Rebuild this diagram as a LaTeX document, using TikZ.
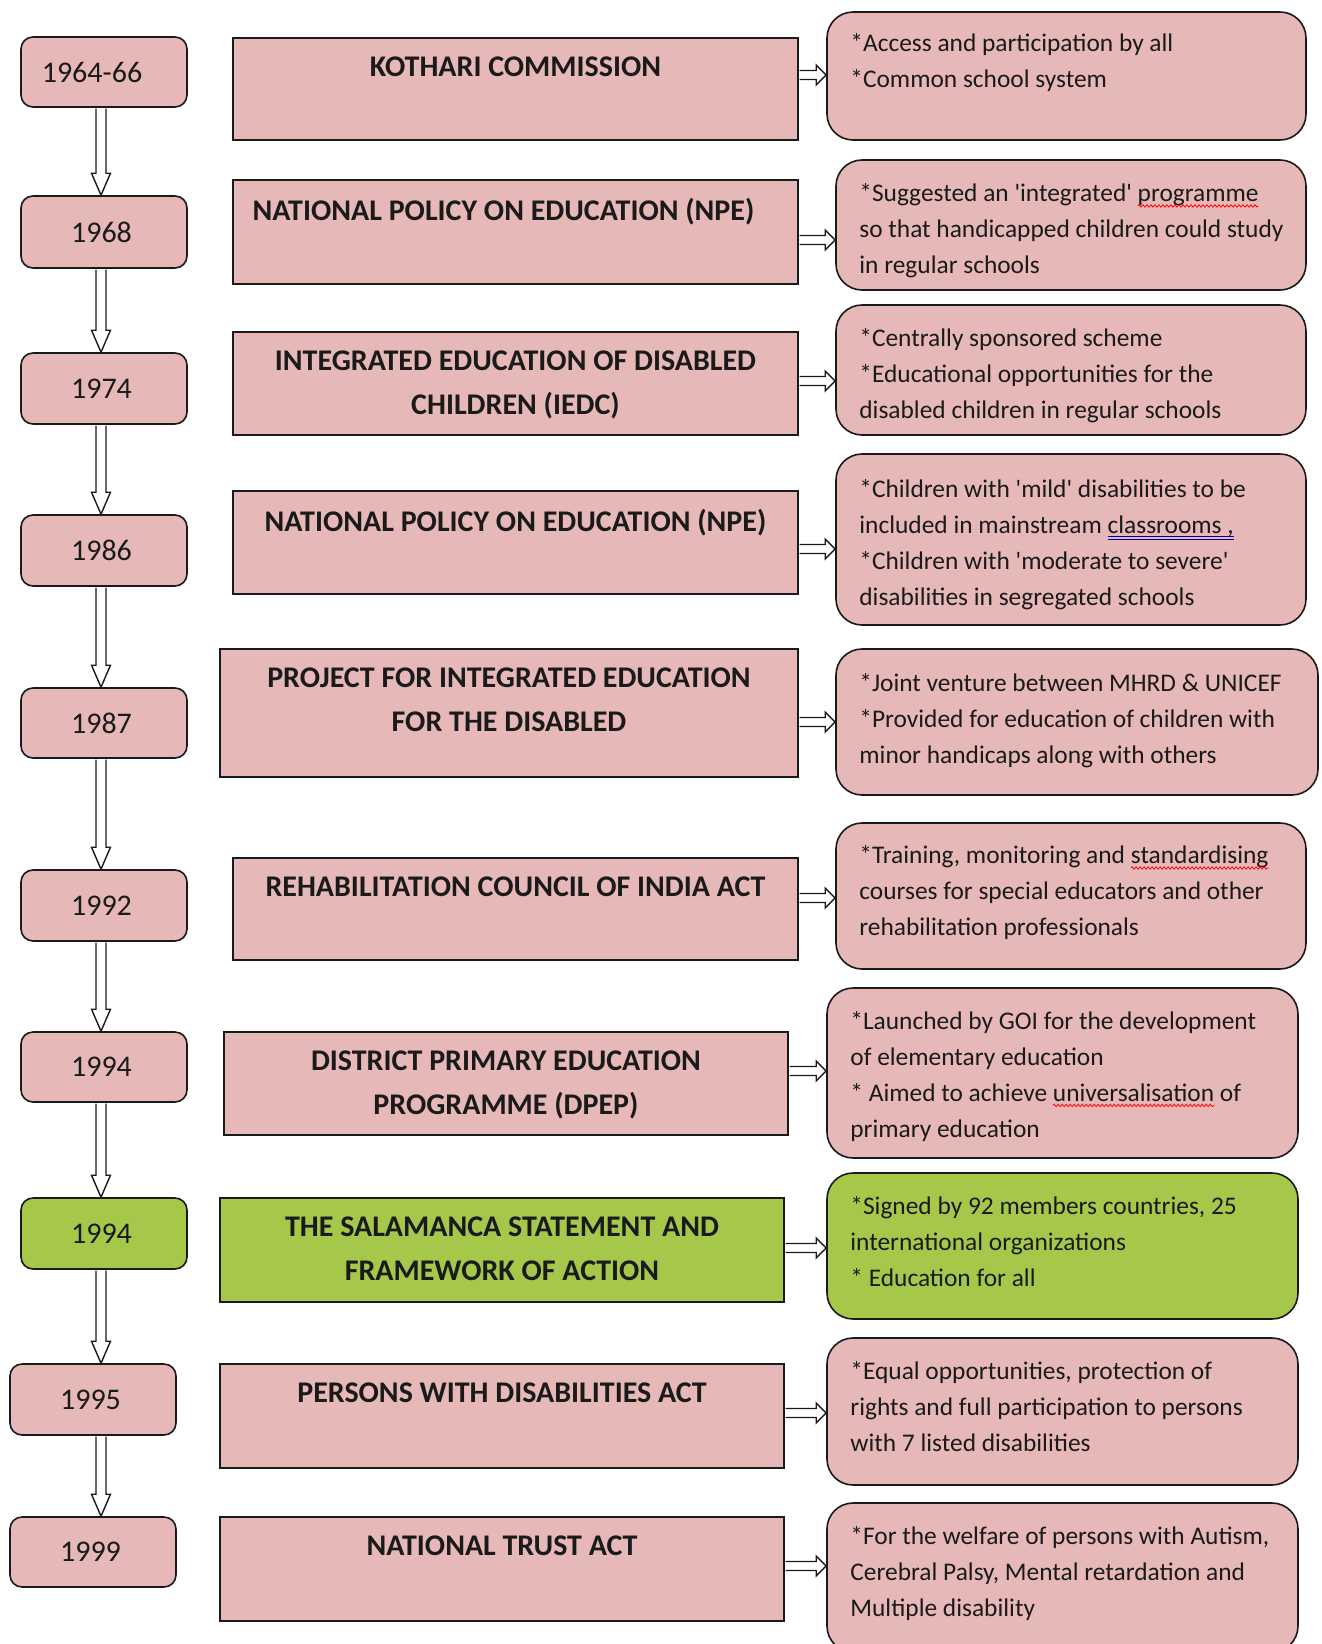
\documentclass[tikz,border=0pt]{standalone}
\usepackage{fontspec}
\setmainfont{Carlito}
\usetikzlibrary{calc,decorations.pathmorphing}
\definecolor{pinkf}{HTML}{E6B9B8}
\definecolor{greenf}{HTML}{A5C84B}
\definecolor{ink}{HTML}{1A1A1A}
\newcommand\redwave[1]{\tikz[baseline=0pt,x=1pt,y=1pt]{\node[anchor=base west,inner sep=0pt,outer sep=0pt,draw=none,fill=none] (w) at (0,0) {#1};\draw[overlay,red,line width=0.8pt,decorate,decoration={snake,amplitude=1.2pt,segment length=4pt}] ([yshift=-4pt]w.base west) -- ([yshift=-4pt]w.base east);}}
\newcommand\blueuu[1]{\tikz[baseline=0pt,x=1pt,y=1pt]{\node[anchor=base west,inner sep=0pt,outer sep=0pt,draw=none,fill=none] (w) at (0,0) {#1};\draw[overlay,blue!65!black,line width=0.8pt] ([yshift=-3pt]w.base west) -- ([yshift=-3pt]w.base east) ([yshift=-5.5pt]w.base west) -- ([yshift=-5.5pt]w.base east);}}
\newcommand\q{\textquotesingle}
\tikzset{
 yrbox/.style={draw=ink, line width=1.6pt, rounded corners=12pt, fill=pinkf, font=\fontsize{30}{36}\selectfont, text=ink},
 mainbox/.style={draw=ink, line width=1.6pt, fill=pinkf},
 infobox/.style={draw=ink, line width=1.6pt, rounded corners=26pt, fill=pinkf},
 ttl/.style={font=\bfseries\fontsize{30}{44}\selectfont, align=center, anchor=north, inner sep=0pt, text=ink},
 info/.style={font=\fontsize{25.4}{36}\selectfont, align=left, anchor=north west, inner sep=0pt, text=ink},
 arr/.style={draw=ink, line width=1.4pt, fill=white, line join=miter},
}
\newcommand\bx[6]{\node[#1, minimum width={#4-#2}, minimum height={#5-#3}, inner sep=0pt] (#6) at ({(#2+#4)/2},{(#3+#5)/2})}
\newcommand\varr[2]{\draw[arr] let \p1=(#1.south), \p2=(#2.north), \p3=(101,0) in (\x3-5pt,\y1-0.8pt) -- (\x3-5pt,\y2+22pt) -- (\x3-9.5pt,\y2+22pt) -- (\x3,\y2) -- (\x3+9.5pt,\y2+22pt) -- (\x3+5pt,\y2+22pt) -- (\x3+5pt,\y1-0.8pt);}
\newcommand\harr[3]{\draw[arr] let \p1=(#1.east), \p2=(#2.west), \p3=(0,#3) in (\x1+0.8pt,\y3+4.5pt) -- (\x2-10pt,\y3+4.5pt) -- (\x2-10pt,\y3+10pt) -- (\x2,\y3) -- (\x2-10pt,\y3-10pt) -- (\x2-10pt,\y3-4.5pt) -- (\x1+0.8pt,\y3-4.5pt);}
\begin{document}
\begin{tikzpicture}[x=1pt,y=-1pt]
\useasboundingbox (0,0) rectangle (1322,1644);
\clip (0,0) rectangle (1322,1644);
% year boxes
\bx{yrbox}{21}{37}{187}{107}{y1} {1964-66\kern24pt};
\bx{yrbox}{21}{196}{187}{268}{y2} {1968\kern5pt};
\bx{yrbox}{21}{353}{187}{424}{y3} {1974\kern5pt};
\bx{yrbox}{21}{515}{187}{586}{y4} {1986\kern5pt};
\bx{yrbox}{21}{688}{187}{758}{y5} {1987\kern5pt};
\bx{yrbox}{21}{870}{187}{941}{y6} {1992\kern5pt};
\bx{yrbox}{21}{1032}{187}{1102}{y7} {1994\kern5pt};
\bx{yrbox,fill=greenf}{21}{1198}{187}{1269}{y8} {1994\kern5pt};
\bx{yrbox}{10}{1364}{176}{1435}{y9} {1995\kern5pt};
\bx{yrbox}{10}{1517}{176}{1587}{y10} {1999\kern5pt};
% main boxes
\bx{mainbox}{233}{38}{798}{140}{m1} {};
\bx{mainbox}{233}{180}{798}{284}{m2} {};
\bx{mainbox}{233}{332}{798}{435}{m3} {};
\bx{mainbox}{233}{491}{798}{594}{m4} {};
\bx{mainbox}{220}{649}{798}{777}{m5} {};
\bx{mainbox}{233}{858}{798}{960}{m6} {};
\bx{mainbox}{224}{1032}{788}{1135}{m7} {};
\bx{mainbox,fill=greenf}{220}{1198}{784}{1302}{m8} {};
\bx{mainbox}{220}{1364}{784}{1468}{m9} {};
\bx{mainbox}{220}{1517}{784}{1621}{m10} {};
% titles
\node[ttl] (t1) at ([shift={(0,19)}]m1.north) {KOTHARI COMMISSION};
\node[ttl] (t2) at ([shift={(-12,19)}]m2.north) {NATIONAL POLICY ON EDUCATION (NPE)};
\node[ttl] (t3) at ([shift={(0,19)}]m3.north) {INTEGRATED EDUCATION OF DISABLED\\CHILDREN (IEDC)};
\node[ttl] (t4) at ([shift={(0,19)}]m4.north) {NATIONAL POLICY ON EDUCATION (NPE)};
\node[ttl] (t5) at ([shift={(0,19)}]m5.north) {PROJECT FOR INTEGRATED EDUCATION\\FOR THE DISABLED};
\node[ttl] (t6) at ([shift={(0,19)}]m6.north) {REHABILITATION COUNCIL OF INDIA ACT};
\node[ttl] (t7) at ([shift={(0,19)}]m7.north) {DISTRICT PRIMARY EDUCATION\\PROGRAMME (DPEP)};
\node[ttl] (t8) at ([shift={(0,19)}]m8.north) {THE SALAMANCA STATEMENT AND\\FRAMEWORK OF ACTION};
\node[ttl] (t9) at ([shift={(0,19)}]m9.north) {PERSONS WITH DISABILITIES ACT};
\node[ttl] (t10) at ([shift={(0,19)}]m10.north) {NATIONAL TRUST ACT};
% info boxes
\bx{infobox}{827}{12}{1306}{140}{r1} {};
\bx{infobox}{836}{160}{1306}{290}{r2} {};
\bx{infobox}{836}{305}{1306}{435}{r3} {};
\bx{infobox}{836}{454}{1306}{625}{r4} {};
\bx{infobox}{836}{649}{1318}{795}{r5} {};
\bx{infobox}{836}{823}{1306}{969}{r6} {};
\bx{infobox}{827}{988}{1298}{1158}{r7} {};
\bx{infobox,fill=greenf}{827}{1173}{1298}{1319}{r8} {};
\bx{infobox}{827}{1338}{1298}{1485}{r9} {};
\bx{infobox}{827}{1503}{1298}{1652}{r10} {};
\node[info] (i1) at ([shift={(24,22.5)}]r1.north west) {*Access and participation by all\\*Common school system};
\node[info] (i2) at ([shift={(24,24.5)}]r2.north west) {*Suggested an \q integrated\q\ \redwave{programme}\\so that handicapped children could study\\in regular schools};
\node[info] (i3) at ([shift={(24,24.5)}]r3.north west) {*Centrally sponsored scheme\\*Educational opportunities for the\\disabled children in regular schools};
\node[info] (i4) at ([shift={(24,26)}]r4.north west) {*Children with \q mild\q\ disabilities to be\\included in mainstream \blueuu{classrooms ,}\\*Children with \q moderate to severe\q\\disabilities in segregated schools};
\node[info] (i5) at ([shift={(24,25.5)}]r5.north west) {*Joint venture between MHRD \& UNICEF\\*Provided for education of children with\\minor handicaps along with others};
\node[info] (i6) at ([shift={(24,23.5)}]r6.north west) {*Training, monitoring and \redwave{standardising}\\courses for special educators and other\\rehabilitation professionals};
\node[info] (i7) at ([shift={(24,24)}]r7.north west) {*Launched by GOI for the development\\of elementary education\\* Aimed to achieve \redwave{universalisation} of\\primary education};
\node[info] (i8) at ([shift={(24,24)}]r8.north west) {*Signed by 92 members countries, 25\\international organizations\\* Education for all};
\node[info] (i9) at ([shift={(24,24)}]r9.north west) {*Equal opportunities, protection of\\rights and full participation to persons\\with 7 listed disabilities};
\node[info] (i10) at ([shift={(24,24)}]r10.north west) {*For the welfare of persons with Autism,\\Cerebral Palsy, Mental retardation and\\Multiple disability};
% vertical arrows
\varr{y1}{y2}
\varr{y2}{y3}
\varr{y3}{y4}
\varr{y4}{y5}
\varr{y5}{y6}
\varr{y6}{y7}
\varr{y7}{y8}
\varr{y8}{y9}
\varr{y9}{y10}
% horizontal arrows
\harr{m1}{r1}{75}
\harr{m2}{r2}{240}
\harr{m3}{r3}{381}
\harr{m4}{r4}{549}
\harr{m5}{r5}{722}
\harr{m6}{r6}{898}
\harr{m7}{r7}{1071}
\harr{m8}{r8}{1248}
\harr{m9}{r9}{1413}
\harr{m10}{r10}{1566}
\end{tikzpicture}
\end{document}
